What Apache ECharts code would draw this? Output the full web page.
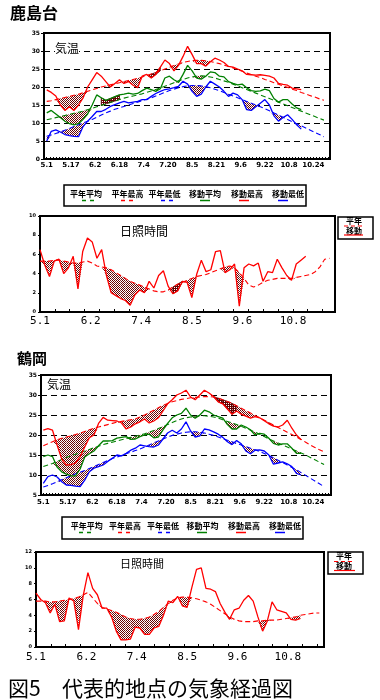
<!DOCTYPE html>
<html><head><meta charset="utf-8">
<script src="https://cdn.jsdelivr.net/npm/echarts@6/dist/echarts.min.js"></script>
<style>html,body{margin:0;padding:0;background:#fff}#c{width:380px;height:700px}</style>
</head><body><div id="c"></div>
<script>
// ---------- data ----------
const STEP = 3; // days between readings, day 0 = 5/1
const tempDateLabels = ['5.1','5.17','6.2','6.18','7.4','7.20','8.5','8.21','9.6','9.22','10.8','10.24'];
const tempLabelDays = [0,16,32,48,64,80,96,112,128,144,160,176];
const sunDateLabels = ['5.1','6.2','7.4','8.5','9.6','10.8'];
const sunLabelDays = [0,32,64,96,128,160];
const legendNames = ['平年平均','平年最高','平年最低','移動平均','移動最高','移動最低'];
const sunLegendNames = ['平年','移動'];

// 鹿島台 temperature
const kashiMaxNormal = [16.0,16.2,16.5,16.8,17.1,17.4,17.7,18.0,18.4,18.8,19.2,19.6,20.0,20.3,20.6,20.9,21.2,21.5,21.8,22.1,22.4,22.8,23.2,23.6,24.0,24.5,25.0,25.5,26.0,26.4,26.8,27.1,27.3,27.4,27.4,27.3,27.1,26.8,26.5,26.1,25.7,25.3,24.8,24.4,23.9,23.5,23.0,22.6,22.1,21.7,21.2,20.8,20.3,19.9,19.4,19.0,18.5,18.1,17.6,17.2,16.7,16.3];
const kashiMaxActual = [19.2,18.5,17.5,15.0,13.5,14.5,13.5,15.0,17.0,20.0,22.0,24.0,23.0,21.5,20.0,21.0,22.0,21.0,21.5,20.5,19.8,23.0,23.5,22.5,23.5,25.5,27.5,26.5,24.5,26.0,28.5,31.3,29.0,26.5,26.5,25.8,27.0,28.0,27.5,26.8,25.7,25.5,25.0,24.5,23.5,23.4,23.3,23.4,23.2,23.0,22.5,21.0,20.7,20.5,19.7,19.5,19.3];
const kashiAvgNormal = [10.9,11.2,11.5,11.8,12.1,12.4,12.7,13.0,13.3,13.7,14.1,14.5,14.9,15.3,15.7,16.1,16.5,16.9,17.2,17.5,17.8,18.1,18.5,18.9,19.3,19.7,20.2,20.7,21.2,21.7,22.1,22.5,22.8,23.0,23.1,23.0,22.8,22.5,22.1,21.7,21.3,20.8,20.3,19.8,19.3,18.8,18.3,17.8,17.3,16.8,16.3,15.8,15.3,14.8,14.3,13.8,13.3,12.8,12.3,11.8,11.3,10.8];
const kashiAvgActual = [12.8,13.5,12.5,11.5,10.5,9.8,9.5,9.8,11.0,12.5,15.0,17.8,17.0,16.3,16.8,17.3,17.8,18.0,18.3,18.0,18.2,19.0,19.7,19.3,18.8,19.5,22.5,23.0,22.0,21.3,23.5,26.0,24.5,22.5,22.2,23.0,24.2,24.0,23.0,22.8,21.5,21.0,20.6,20.8,19.8,19.0,18.8,18.9,19.4,19.0,16.8,15.8,16.5,16.5,15.3,14.2,13.7];
const kashiMinNormal = [6.3,6.7,7.1,7.5,8.0,8.5,9.0,9.5,10.0,10.5,11.0,11.6,12.2,12.8,13.3,13.8,14.2,14.6,15.0,15.4,15.8,16.2,16.6,17.0,17.5,18.0,18.5,19.0,19.4,19.8,20.1,20.3,20.4,20.4,20.3,20.1,19.8,19.4,19.0,18.5,18.0,17.5,17.0,16.5,16.0,15.5,15.0,14.5,14.0,13.4,12.8,12.2,11.6,11.0,10.4,9.8,9.2,8.6,8.0,7.4,6.8,6.2];
const kashiMinActual = [5.0,7.7,8.1,7.5,6.8,6.5,6.3,6.2,9.0,10.5,11.8,13.2,13.2,13.8,14.6,15.1,15.6,16.0,15.6,15.8,16.0,16.5,16.5,17.4,18.2,18.8,19.3,19.5,19.8,20.2,21.6,20.8,18.8,17.4,18.0,20.0,21.6,20.8,20.0,18.8,17.4,18.3,17.8,16.5,13.7,13.5,14.5,15.5,16.5,15.0,12.0,10.5,11.5,12.3,11.0,9.5,8.3];
// periods (day ranges) drawn with the dark shading
const kashiDarkMax = [69, 75];
const kashiDarkAvg = [36, 48];

// 鹿島台 sunshine
const kashiSunNormal = [5.3,5.3,5.3,5.4,5.4,5.3,5.2,5.1,5.1,5.2,5.3,5.1,4.8,4.7,4.6,4.4,4.1,3.8,3.5,3.2,3.0,2.8,2.6,2.4,2.2,2.1,2.1,2.3,2.6,2.9,3.1,3.3,3.5,3.7,3.8,3.9,4.1,4.3,4.5,4.7,4.8,4.6,4.1,3.5,2.8,2.6,2.8,3.1,3.3,3.4,3.5,3.5,3.5,3.5,3.6,3.7,3.8,3.9,4.2,4.7,5.5,5.6];
const kashiSunActual = [6.5,4.9,3.7,5.3,5.5,4.0,4.6,5.8,2.4,6.3,7.7,7.3,5.6,6.5,3.8,2.0,1.7,1.4,1.2,0.7,1.8,2.3,2.0,3.2,2.5,3.8,4.3,2.7,1.9,2.2,3.2,3.1,1.5,3.9,5.4,4.2,4.4,6.3,6.4,4.1,4.4,5.0,0.6,4.6,5.0,4.8,5.1,3.2,4.2,4.1,5.5,4.6,3.8,3.3,5.0,5.4,5.8];
const kashiSunDark = [84, 90];

// 鶴岡 temperature
const tsuruMaxNormal = [17.3,17.8,18.3,18.8,19.2,19.5,19.8,20.1,20.5,20.9,21.3,21.7,22.0,22.3,22.6,22.9,23.2,23.4,23.6,23.8,24.0,24.5,25.0,25.6,26.2,26.8,27.4,27.9,28.3,28.6,28.9,29.1,29.3,29.4,29.5,29.6,29.6,29.5,29.2,28.8,28.4,27.9,27.3,26.7,26.1,25.5,24.9,24.3,23.7,23.1,22.5,21.9,21.3,20.7,20.1,19.5,18.9,18.2,17.5,16.9,16.3,15.8];
const tsuruMaxActual = [21.2,21.6,21.2,17.5,14.0,12.5,12.6,13.0,14.6,17.0,19.3,20.0,22.9,24.4,23.7,23.6,23.5,23.0,21.5,22.0,22.8,23.3,24.0,23.0,23.5,24.3,26.0,27.8,28.8,30.0,30.5,31.2,29.5,28.8,30.0,31.2,30.5,29.6,28.3,27.8,26.5,25.2,26.0,25.2,24.7,24.2,24.6,24.3,23.6,22.8,22.2,22.0,22.5,23.7,21.7,20.0,18.8];
const tsuruAvgNormal = [12.1,12.5,12.9,13.4,13.9,14.4,14.8,15.2,15.6,16.0,16.4,16.8,17.2,17.6,17.9,18.2,18.5,18.8,19.1,19.4,19.7,20.0,20.3,20.7,21.1,21.6,22.1,22.6,23.1,23.6,24.0,24.3,24.5,24.7,24.8,24.8,24.7,24.5,24.2,23.8,23.4,23.0,22.6,22.2,21.7,21.2,20.7,20.2,19.6,19.0,18.5,18.0,17.5,17.0,16.5,16.0,15.5,15.0,14.4,13.8,13.2,12.6];
const tsuruAvgActual = [14.6,15.0,14.6,12.0,10.8,10.2,9.8,9.8,11.5,14.5,15.3,16.0,17.3,18.5,18.5,18.6,19.2,19.4,19.6,18.9,19.0,19.6,20.0,20.2,19.3,19.5,21.3,22.9,24.3,25.0,25.4,26.7,25.0,24.2,25.0,26.2,25.8,25.0,24.6,24.2,22.6,21.5,21.5,22.5,22.0,21.3,20.0,20.4,20.2,19.2,17.9,17.5,17.8,17.8,16.7,15.4,15.4];
const tsuruMinNormal = [7.0,7.4,7.8,8.3,8.8,9.3,9.8,10.3,10.7,11.1,11.6,12.1,12.6,13.1,13.6,14.1,14.5,14.9,15.3,15.7,16.1,16.5,17.0,17.5,18.0,18.5,19.0,19.5,19.9,20.2,20.5,20.7,20.8,20.8,20.7,20.5,20.2,19.9,19.5,19.1,18.7,18.3,17.9,17.5,17.1,16.7,16.3,15.9,15.4,14.9,14.3,13.7,13.1,12.5,11.9,11.3,10.6,9.9,9.2,8.5,7.8,7.1];
const tsuruMinActual = [7.9,9.6,10.0,9.5,8.3,7.5,7.4,7.2,7.1,8.7,10.8,11.7,12.1,12.5,13.4,14.2,15.0,14.8,15.4,16.2,16.7,17.5,17.3,17.1,17.0,17.5,19.0,20.5,21.2,20.5,21.5,23.3,21.0,19.5,19.8,21.5,21.3,20.8,20.2,19.4,18.3,17.6,18.6,17.8,16.0,15.3,16.2,16.3,16.0,15.0,12.7,13.0,13.3,12.8,12.1,10.4,10.0];
const tsuruDarkMax = [111, 126];

// 鶴岡 sunshine
const tsuruSunNormal = [5.8,5.8,5.8,5.7,5.7,5.8,5.9,6.0,6.1,6.3,6.6,6.9,6.2,5.5,5.0,4.8,4.6,4.4,4.1,3.8,3.6,3.5,3.5,3.6,3.8,4.1,4.5,5.0,5.5,5.9,6.2,6.3,6.3,6.2,6.1,5.9,5.7,5.4,5.0,4.6,4.2,3.8,3.5,3.3,3.2,3.2,3.2,3.3,3.3,3.4,3.4,3.4,3.5,3.6,3.7,3.8,4.0,4.1,4.2,4.3,4.3];
const tsuruSunActual = [6.8,6.0,5.6,4.3,5.4,3.2,3.3,6.2,5.8,2.2,6.5,9.4,7.4,6.6,4.9,4.9,3.8,2.0,0.9,0.9,1.0,2.5,2.4,1.6,1.6,2.4,2.6,4.0,5.8,5.6,6.4,5.2,5.0,7.5,9.8,10.0,7.4,7.3,7.0,5.5,4.4,3.5,4.7,4.9,5.9,6.5,5.8,3.8,2.0,3.3,5.7,4.7,4.5,4.3,3.5,3.4,3.6];

// ---------- drawing ----------
const RED = '#ff0000', GREEN = '#008000', BLUE = '#0000ff';
const JP = '"Noto Sans CJK JP"';

function makePattern(cells) {
  const c = document.createElement('canvas');
  c.width = 2; c.height = 2;
  const x = c.getContext('2d');
  x.fillStyle = '#ffffff'; x.fillRect(0, 0, 2, 2);
  x.fillStyle = '#660000';
  cells.forEach(p => x.fillRect(p[0], p[1], 1, 1));
  return { image: c, repeat: 'repeat' };
}
const dotPattern = makePattern([[0, 0], [1, 1]]);
const darkPattern = makePattern([[0, 0], [1, 1], [1, 0]]);

const toPts = arr => arr.map((v, i) => [i * STEP, v]);

function lineS(xi, yi, arr, color, dashed) {
  return { type: 'line', xAxisIndex: xi, yAxisIndex: yi, data: toPts(arr), symbol: 'none', silent: true, z: 3,
    lineStyle: { color: color, width: dashed ? 1.1 : 1.3, type: dashed ? [5, 3] : 'solid' } };
}
// shaded band between normal and actual: dotted where actual is below normal,
// dark over the listed period (both sides)
function bandS(xi, yi, normal, actual, dark) {
  const n = Math.min(normal.length, actual.length);
  const segs = [];
  for (let i = 0; i < n - 1; i++) {
    const d0 = i * STEP, d1 = (i + 1) * STEP;
    const isDark = dark && d0 >= dark[0] && d1 <= dark[1] ? 1 : 0;
    if (isDark) {
      segs.push([d0, d1, Math.min(actual[i], normal[i]), Math.max(actual[i], normal[i]),
        Math.min(actual[i + 1], normal[i + 1]), Math.max(actual[i + 1], normal[i + 1]), 1]);
    } else {
      segs.push([d0, d1, Math.min(actual[i], normal[i]), normal[i], Math.min(actual[i + 1], normal[i + 1]), normal[i + 1], 0]);
    }
  }
  return {
    type: 'custom', xAxisIndex: xi, yAxisIndex: yi, data: segs, silent: true, z: 1,
    encode: { x: [0, 1], y: [2, 3, 4, 5] },
    renderItem: function (params, api) {
      const h0 = api.value(3) - api.value(2), h1 = api.value(5) - api.value(4);
      if (h0 <= 0 && h1 <= 0) return null;
      const a = api.coord([api.value(0), api.value(3)]);
      const b = api.coord([api.value(1), api.value(5)]);
      const c = api.coord([api.value(1), api.value(4)]);
      const d = api.coord([api.value(0), api.value(2)]);
      const dk = api.value(6) === 1;
      return { type: 'polygon', shape: { points: [a, b, c, d] },
        style: { fill: dk ? darkPattern : dotPattern, stroke: dk ? '#5a0000' : null, lineWidth: dk ? 0.8 : 0 } };
    }
  };
}

const minorTempTicks = []; for (let d = 0; d <= 186; d += 2) minorTempTicks.push(d);
const sunTicks = []; for (let d = 0; d <= 186; d += 9.4) sunTicks.push(d);

function tempX(gi, min, max, margin) {
  return { type: 'value', gridIndex: gi, min: min, max: max,
    axisLine: { show: true, onZero: false, lineStyle: { color: '#000', width: 2 } },
    axisTick: { show: true, inside: true, length: 2, customValues: minorTempTicks, lineStyle: { color: '#000', width: 1 } },
    axisLabel: { show: true, customValues: tempLabelDays, formatter: v => tempDateLabels[Math.round(v / 16)],
      fontSize: 7, fontWeight: 'bold', color: '#000', margin: margin, fontFamily: 'DejaVu Sans' },
    splitLine: { show: false } };
}
function sunX(gi, min, max, margin) {
  return { type: 'value', gridIndex: gi, min: min, max: max,
    axisLine: { show: true, onZero: false, lineStyle: { color: '#000', width: 2 } },
    axisTick: { show: true, inside: true, length: 3, customValues: sunTicks, lineStyle: { color: '#000' } },
    axisLabel: { show: true, customValues: sunLabelDays, formatter: v => sunDateLabels[Math.round(v / 32)],
      fontSize: 11, color: '#000', margin: margin, fontFamily: 'DejaVu Sans Mono' },
    splitLine: { show: false } };
}
function tempY(gi, min, max) {
  return { type: 'value', gridIndex: gi, min: min, max: max, interval: 5,
    axisLine: { show: true, onZero: false, lineStyle: { color: '#000', width: 2 } },
    axisTick: { show: true, length: 3, lineStyle: { color: '#000' } },
    axisLabel: { fontSize: 6, fontWeight: 'bold', color: '#000', margin: 4, fontFamily: 'DejaVu Sans' },
    splitLine: { show: true, lineStyle: { color: '#000', width: 1, type: [6, 4] } } };
}
function sunY(gi, max) {
  return { type: 'value', gridIndex: gi, min: 0, max: max, interval: 2,
    axisLine: { show: true, onZero: false, lineStyle: { color: '#000', width: 2 } },
    axisTick: { show: true, length: 2, lineStyle: { color: '#000' } },
    axisLabel: { fontSize: 5, fontWeight: 'bold', color: '#000', margin: 4, fontFamily: 'DejaVu Sans' },
    splitLine: { show: false } };
}

const gridStyle = { show: true, borderColor: '#000', borderWidth: 2, backgroundColor: 'transparent' };

// legend graphics
function tempLegend(box, ty, ly, textX, sampleX) {
  const els = [{ type: 'rect', shape: box, style: { fill: '#fff', stroke: '#000', lineWidth: 1.5 }, z: 10 }];
  const colors = [GREEN, RED, BLUE, GREEN, RED, BLUE];
  legendNames.forEach((name, i) => {
    els.push({ type: 'text', x: textX[i], y: ty, z: 11, style: { text: name, font: 'bold 8px ' + JP, fill: '#000', textAlign: 'center', textVerticalAlign: 'middle' } });
    const dashed = i < 3;
    els.push({ type: 'line', z: 11, shape: { x1: sampleX[i][0], y1: ly, x2: sampleX[i][1], y2: ly },
      style: { stroke: colors[i], lineWidth: 1.5, lineDash: dashed ? [4, 4] : null } });
  });
  return els;
}
function sunLegend(box, cx, ty1, ly1, ty2, ly2, lx1, lx2) {
  return [
    { type: 'rect', shape: box, style: { fill: '#fff', stroke: '#000', lineWidth: 1.5 }, z: 10 },
    { type: 'text', x: cx, y: ty1, z: 11, style: { text: sunLegendNames[0], font: 'bold 8px ' + JP, fill: '#000', textAlign: 'center', textVerticalAlign: 'middle' } },
    { type: 'line', z: 11, shape: { x1: lx1, y1: ly1, x2: lx2, y2: ly1 }, style: { stroke: RED, lineWidth: 1.2, lineDash: [4, 3] } },
    { type: 'text', x: cx, y: ty2, z: 11, style: { text: sunLegendNames[1], font: 'bold 8px ' + JP, fill: '#000', textAlign: 'center', textVerticalAlign: 'middle' } },
    { type: 'line', z: 11, shape: { x1: lx1, y1: ly2, x2: lx2, y2: ly2 }, style: { stroke: RED, lineWidth: 1.2 } }
  ];
}

const series = [
  bandS(0, 0, kashiMaxNormal, kashiMaxActual, kashiDarkMax),
  bandS(0, 0, kashiAvgNormal, kashiAvgActual, kashiDarkAvg),
  bandS(0, 0, kashiMinNormal, kashiMinActual, null),
  lineS(0, 0, kashiMaxNormal, RED, true), lineS(0, 0, kashiAvgNormal, GREEN, true), lineS(0, 0, kashiMinNormal, BLUE, true),
  lineS(0, 0, kashiMaxActual, RED, false), lineS(0, 0, kashiAvgActual, GREEN, false), lineS(0, 0, kashiMinActual, BLUE, false),
  bandS(1, 1, kashiSunNormal, kashiSunActual, kashiSunDark),
  lineS(1, 1, kashiSunNormal, RED, true), lineS(1, 1, kashiSunActual, RED, false),
  bandS(2, 2, tsuruMaxNormal, tsuruMaxActual, tsuruDarkMax),
  bandS(2, 2, tsuruAvgNormal, tsuruAvgActual, null),
  bandS(2, 2, tsuruMinNormal, tsuruMinActual, null),
  lineS(2, 2, tsuruMaxNormal, RED, true), lineS(2, 2, tsuruAvgNormal, GREEN, true), lineS(2, 2, tsuruMinNormal, BLUE, true),
  lineS(2, 2, tsuruMaxActual, RED, false), lineS(2, 2, tsuruAvgActual, GREEN, false), lineS(2, 2, tsuruMinActual, BLUE, false),
  bandS(3, 3, tsuruSunNormal, tsuruSunActual, null),
  lineS(3, 3, tsuruSunNormal, RED, true), lineS(3, 3, tsuruSunActual, RED, false)
];

const graphic = [
  { type: 'text', x: 10, y: 13, style: { text: '鹿島台', font: 'bold 16px ' + JP, fill: '#000', textVerticalAlign: 'middle' } },
  { type: 'text', x: 55, y: 48, z: 5, style: { text: '気温', font: '12px ' + JP, fill: '#000', textVerticalAlign: 'middle', backgroundColor: '#fff' } },
  ...tempLegend({ x: 64, y: 185, width: 242, height: 21 }, 193.5, 200.5,
    [86, 127.5, 164.5, 205, 247, 288], [[82, 94], [121, 133], [161, 173], [200, 210], [239, 249], [278, 288]]),
  { type: 'text', x: 120, y: 231, z: 5, style: { text: '日照時間', font: '12px ' + JP, fill: '#000', textVerticalAlign: 'middle' } },
  ...sunLegend({ x: 338, y: 217, width: 35, height: 22 }, 354, 221, 226, 231, 235, 344, 363),
  { type: 'text', x: 17, y: 358.5, style: { text: '鶴岡', font: 'bold 15px ' + JP, fill: '#000', textVerticalAlign: 'middle' } },
  { type: 'text', x: 47, y: 384.5, z: 5, style: { text: '気温', font: '12px ' + JP, fill: '#000', textVerticalAlign: 'middle' } },
  ...tempLegend({ x: 62, y: 517, width: 241, height: 22 }, 526, 532.5,
    [86.7, 125, 163, 202.5, 244, 285], [[79, 91], [118, 130], [158, 170], [197, 207], [236, 246], [275, 285]]),
  { type: 'text', x: 120, y: 564, z: 5, style: { text: '日照時間', font: '11px ' + JP, fill: '#000', textVerticalAlign: 'middle' } },
  ...sunLegend({ x: 328, y: 552, width: 35, height: 22 }, 344, 556, 561.5, 566, 570.5, 334, 355),
  { type: 'text', x: 8, y: 688, style: { text: '図5', font: '21px ' + JP, fill: '#000', textVerticalAlign: 'middle' } },
  { type: 'text', x: 62, y: 688, style: { text: '代表的地点の気象経過図', font: '21px ' + JP, fill: '#000', textVerticalAlign: 'middle' } }
];

const option = {
  animation: false,
  backgroundColor: '#fff',
  grid: [
    Object.assign({ left: 44, top: 33, width: 286, height: 126 }, gridStyle),
    Object.assign({ left: 40, top: 216, width: 295, height: 96 }, gridStyle),
    Object.assign({ left: 41, top: 375, width: 290, height: 120 }, gridStyle),
    Object.assign({ left: 36, top: 552, width: 288, height: 95 }, gridStyle)
  ],
  xAxis: [tempX(0, -1.8, 187, 3), sunX(1, 0, 186.5, 4), tempX(2, -1.5, 187.5, 4), sunX(3, 0, 183, 5)],
  yAxis: [tempY(0, 0, 35), sunY(1, 10), tempY(2, 5, 35), sunY(3, 12)],
  series: series,
  graphic: graphic
};

const chart = echarts.init(document.getElementById('c'), null, { renderer: 'canvas' });
chart.setOption(option);
</script>
</body></html>
